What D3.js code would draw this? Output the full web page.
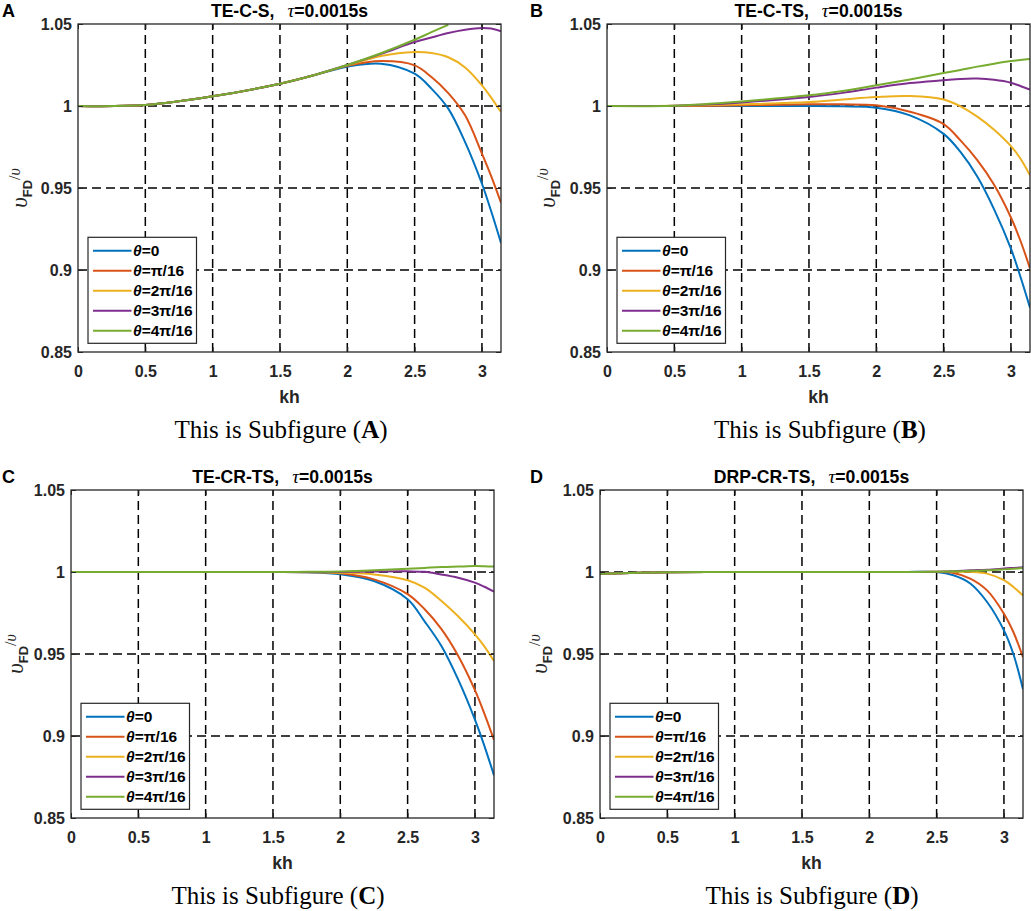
<!DOCTYPE html>
<html>
<head>
<meta charset="utf-8">
<script src="https://cdn.jsdelivr.net/npm/d3@7"></script>
<style>
  body { margin: 0; background: #fff; }
</style>
</head>
<body>
<svg id="chart" width="1031" height="911" font-family="Liberation Sans, Arial, sans-serif"></svg>
<script>
// ---- data ----
const kh = [0, 0.5, 1, 1.5, 1.75, 2, 2.25, 2.5, 2.625, 2.75, 2.875, 3, 3.07, 3.1416];

const xTicks = [0, 0.5, 1, 1.5, 2, 2.5, 3];
const xTickLabels = ["0", "0.5", "1", "1.5", "2", "2.5", "3"];
const yTicks = [0.85, 0.9, 0.95, 1, 1.05];
const yTickLabels = ["0.85", "0.9", "0.95", "1", "1.05"];

const thetaLabels = ["0", "π/16", "2π/16", "3π/16", "4π/16"];
const panelNames = ["TE-C-S", "TE-C-TS", "TE-CR-TS", "DRP-CR-TS"];
const panelLetters = ["A", "B", "C", "D"];
const tauText = "=0.0015s";

// TE-C-S
const seriesA = [
  [1.0, 1.0006, 1.0059, 1.0136, 1.0187, 1.0240, 1.0258, 1.0197, 1.0106, 0.9984, 0.9780, 0.9526, 0.9355, 0.9165],
  [1.0, 1.0006, 1.0059, 1.0136, 1.0187, 1.0245, 1.0274, 1.0248, 1.0177, 1.0079, 0.9943, 0.9710, 0.9570, 0.9410],
  [1.0, 1.0006, 1.0059, 1.0136, 1.0187, 1.0248, 1.0305, 1.0329, 1.0323, 1.0297, 1.0235, 1.0126, 1.0050, 0.9963],
  [1.0, 1.0006, 1.0059, 1.0136, 1.0188, 1.0250, 1.0318, 1.0390, 1.0418, 1.0445, 1.0465, 1.0476, 1.0472, 1.0455],
  [1.0, 1.0006, 1.0059, 1.0136, 1.0188, 1.0250, 1.0322, 1.0404, 1.0450, 1.0495, null, null, null, null]
];
// TE-C-TS
const seriesB = [
  [1.0, 1.0, 1.0, 1.0, 0.9998, 0.9990, 0.9943, 0.9830, 0.9720, 0.9570, 0.9370, 0.9130, 0.8960, 0.8770],
  [1.0, 1.0, 1.0004, 1.0010, 1.0010, 1.0004, 0.9965, 0.9890, 0.9790, 0.9670, 0.9520, 0.9320, 0.9180, 0.9010],
  [1.0, 1.0001, 1.0010, 1.0024, 1.0040, 1.0055, 1.0061, 1.0040, 0.9998, 0.9935, 0.9855, 0.9755, 0.9680, 0.9577],
  [1.0, 1.0002, 1.0022, 1.0055, 1.0080, 1.0112, 1.0140, 1.0157, 1.0165, 1.0167, 1.0160, 1.0142, 1.0122, 1.0100],
  [1.0, 1.0002, 1.0028, 1.0065, 1.0092, 1.0126, 1.0162, 1.0201, 1.0220, 1.0240, 1.0258, 1.0274, 1.0281, 1.0287]
];
// TE-CR-TS
const seriesC = [
  [1.0, 1.0, 1.0, 1.0, 0.9998, 0.9986, 0.9945, 0.9834, 0.9700, 0.9550, 0.9345, 0.9100, 0.8940, 0.8760],
  [1.0, 1.0, 1.0, 1.0, 0.9999, 0.9992, 0.9955, 0.9865, 0.9774, 0.9653, 0.9490, 0.9280, 0.9137, 0.8976],
  [1.0, 1.0, 1.0, 1.0, 1.0, 0.9996, 0.9985, 0.9950, 0.9905, 0.9825, 0.9730, 0.9620, 0.9547, 0.9457],
  [1.0, 1.0, 1.0, 1.0, 1.0, 1.0, 1.0003, 1.0004, 1.0001, 0.9985, 0.9965, 0.9935, 0.9910, 0.9880],
  [1.0, 1.0, 1.0, 1.0, 1.0001, 1.0003, 1.0010, 1.0020, 1.0025, 1.0030, 1.0033, 1.0036, 1.0035, 1.0033]
];
// DRP-CR-TS
const seriesD = [
  [0.9990, 0.9999, 1.0, 1.0, 1.0, 1.0, 1.0, 1.0, 0.9980, 0.9930, 0.9817, 0.9644, 0.9500, 0.9285],
  [0.9990, 0.9999, 1.0, 1.0, 1.0, 1.0, 1.0, 1.0, 0.9994, 0.9960, 0.9888, 0.9746, 0.9634, 0.9480],
  [0.9990, 0.9999, 1.0, 1.0, 1.0, 1.0, 1.0, 1.0001, 1.0002, 1.0001, 0.9990, 0.9950, 0.9909, 0.9856],
  [0.9990, 0.9999, 1.0, 1.0, 1.0, 1.0, 1.0, 1.0002, 1.0005, 1.0010, 1.0014, 1.0021, 1.0025, 1.0029],
  [0.9990, 0.9999, 1.0, 1.0, 1.0, 1.0, 1.0, 1.0002, 1.0004, 1.0007, 1.0010, 1.0016, 1.0020, 1.0024]
];

const allSeries = [seriesA, seriesB, seriesC, seriesD];

// ---- styling / layout ----
const colors = ["#0072BD", "#D95319", "#EDB120", "#7E2F8E", "#77AC30"];
const axisColor = "#262626";
const serif = "Liberation Serif, 'Times New Roman', serif";
const plotW = 423, plotH = 328;
const layout = [
  { left: 78,  top: 24,  letterX: 2,   capX: 281, ylabX: 27 },
  { left: 607, top: 24,  letterX: 530, capX: 820, ylabX: 555 },
  { left: 71,  top: 490, letterX: 2,   capX: 278, ylabX: 23 },
  { left: 600, top: 490, letterX: 530, capX: 812, ylabX: 547 }
];

const svg = d3.select("#chart");

function drawPanel(i) {
  const L = layout[i];
  const data = allSeries[i];
  const right = L.left + plotW, bottom = L.top + plotH;

  const x = d3.scaleLinear().domain([0, Math.PI]).range([L.left, right]);
  const y = d3.scaleLinear().domain([0.85, 1.05]).range([bottom, L.top]);

  const g = svg.append("g");

  // clip
  const clipId = "clip" + i;
  svg.append("clipPath").attr("id", clipId)
    .append("rect").attr("x", L.left).attr("y", L.top)
    .attr("width", plotW).attr("height", plotH);

  // dashed grid
  const xg = xTicks.filter(d => d > 0 && d < Math.PI);
  const yg = yTicks.filter(d => d > 0.85 && d < 1.05);
  g.append("g").selectAll("line").data(xg).enter().append("line")
    .attr("x1", d => x(d)).attr("x2", d => x(d))
    .attr("y1", bottom).attr("y2", L.top)
    .attr("stroke", "#000").attr("stroke-width", 1.5)
    .attr("stroke-dasharray", "9,5");
  g.append("g").selectAll("line").data(yg).enter().append("line")
    .attr("x1", L.left).attr("x2", right)
    .attr("y1", d => y(d)).attr("y2", d => y(d))
    .attr("stroke", "#000").attr("stroke-width", 1.5)
    .attr("stroke-dasharray", "9,5");

  // curves
  const line = d3.line()
    .defined(d => d[1] !== null)
    .x(d => x(d[0])).y(d => y(d[1]))
    .curve(d3.curveCatmullRom.alpha(0.5));

  g.append("g").attr("clip-path", `url(#${clipId})`)
    .selectAll("path").data(data).enter().append("path")
    .attr("d", s => line(s.map((v, k) => [kh[k], v])))
    .attr("fill", "none")
    .attr("stroke", (s, k) => colors[k])
    .attr("stroke-width", 2);

  // axes
  const styleAxis = a => {
    a.select(".domain").remove();
    a.attr("font-family", null)
      .attr("font-size", 16).attr("font-weight", "bold");
    a.selectAll(".tick line").attr("stroke", axisColor).attr("stroke-width", 1);
    a.selectAll(".tick text").attr("fill", axisColor);
  };

  g.append("g").attr("transform", `translate(0,${bottom})`)
    .call(d3.axisBottom(x).tickValues(xTicks)
      .tickFormat((d, k) => xTickLabels[k])
      .tickSizeInner(-5).tickSizeOuter(0).tickPadding(13.5))
    .call(styleAxis);
  g.append("g").attr("transform", `translate(0,${L.top})`)
    .call(d3.axisTop(x).tickValues(xTicks).tickFormat("")
      .tickSizeInner(-5).tickSizeOuter(0))
    .call(styleAxis);
  g.append("g").attr("transform", `translate(${L.left},0)`)
    .call(d3.axisLeft(y).tickValues(yTicks)
      .tickFormat((d, k) => yTickLabels[k])
      .tickSizeInner(-5).tickSizeOuter(0).tickPadding(6))
    .call(styleAxis);
  g.append("g").attr("transform", `translate(${right},0)`)
    .call(d3.axisRight(y).tickValues(yTicks).tickFormat("")
      .tickSizeInner(-5).tickSizeOuter(0))
    .call(styleAxis);

  // box
  g.append("rect")
    .attr("x", L.left).attr("y", L.top)
    .attr("width", plotW).attr("height", plotH)
    .attr("fill", "none").attr("stroke", axisColor).attr("stroke-width", 1.3);

  // title
  const title = g.append("text")
    .attr("x", L.left + plotW / 2).attr("y", L.top - 7)
    .attr("text-anchor", "middle")
    .attr("font-size", 17.6).attr("font-weight", "bold").attr("fill", "#000");
  title.append("tspan").text(panelNames[i] + ",");
  title.append("tspan").attr("dx", 13)
    .attr("font-family", serif).attr("font-style", "italic")
    .attr("font-weight", "normal").attr("font-size", 19).text("τ");
  title.append("tspan").text(tauText);

  // panel letter
  g.append("text").attr("x", L.letterX).attr("y", L.top - 7)
    .attr("font-size", 18).attr("font-weight", "bold").attr("fill", "#000")
    .text(panelLetters[i]);

  // x label
  g.append("text")
    .attr("x", L.left + plotW / 2).attr("y", bottom + 51)
    .attr("text-anchor", "middle")
    .attr("font-size", 17.6).attr("font-weight", "bold").attr("fill", axisColor)
    .text("kh");

  // y label  v_FD / v
  const yl = g.append("text")
    .attr("transform", `translate(${L.ylabX},${L.top + plotH / 2}) rotate(-90)`)
    .attr("text-anchor", "middle").attr("fill", axisColor);
  yl.append("tspan").attr("font-family", serif)
    .attr("font-style", "italic").attr("font-size", 23).text("υ");
  yl.append("tspan").attr("dy", 5).attr("font-weight", "bold")
    .attr("font-size", 13).text("FD");
  yl.append("tspan").attr("dy", -12).attr("font-family", serif)
    .attr("font-size", 16).text("/");
  yl.append("tspan").attr("font-family", serif)
    .attr("font-style", "italic").attr("font-size", 16).text("υ");

  // legend
  const lx = L.left + 10, ly = bottom - 114.7;
  const lg = g.append("g");
  lg.append("rect").attr("x", lx).attr("y", ly)
    .attr("width", 108.5).attr("height", 106)
    .attr("fill", "#fff").attr("stroke", axisColor).attr("stroke-width", 1.2);
  thetaLabels.forEach((lab, k) => {
    const ry = ly + 13.4 + 20 * k;
    lg.append("line").attr("x1", lx + 5).attr("x2", lx + 43.5)
      .attr("y1", ry).attr("y2", ry)
      .attr("stroke", colors[k]).attr("stroke-width", 2);
    const t = lg.append("text").attr("x", lx + 45).attr("y", ry + 5.5)
      .attr("font-size", 15.5).attr("font-weight", "bold").attr("fill", "#000");
    t.append("tspan").attr("font-style", "italic").text("θ");
    t.append("tspan").text("=" + lab);
  });

  // caption
  const cap = g.append("text")
    .attr("x", L.capX).attr("y", L.top + 414)
    .attr("text-anchor", "middle")
    .attr("font-family", serif)
    .attr("font-size", 25).attr("fill", "#000");
  cap.append("tspan").text("This is Subfigure (");
  cap.append("tspan").attr("font-weight", "bold").text(panelLetters[i]);
  cap.append("tspan").text(")");
}

[0, 1, 2, 3].forEach(drawPanel);
</script>
</body>
</html>
